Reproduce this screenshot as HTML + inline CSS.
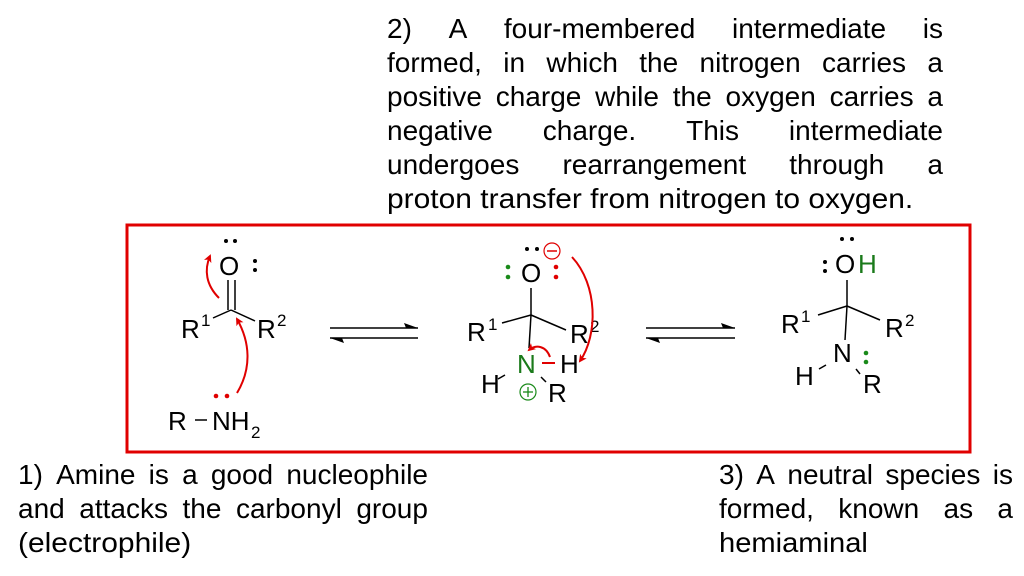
<!DOCTYPE html>
<html><head><meta charset="utf-8"><style>
body{margin:0;width:1024px;height:576px;background:#fff;position:relative;overflow:hidden;font-family:"Liberation Sans",Arial,sans-serif;}
.l{position:absolute;display:flex;justify-content:space-between;font-size:28px;line-height:34px;height:34px;white-space:nowrap;color:#000;}
.n{position:absolute;font-size:28px;line-height:34px;white-space:nowrap;transform:scaleX(1.07);transform-origin:0 0;}
svg{position:absolute;left:0;top:0;}
svg text{font-family:"Liberation Sans",Arial,sans-serif;}
</style></head><body>
<div class="l" style="left:387px;top:12px;width:556px"><span>2)</span><span>A</span><span>four-membered</span><span>intermediate</span><span>is</span></div>
<div class="l" style="left:387px;top:46px;width:556px"><span>formed,</span><span>in</span><span>which</span><span>the</span><span>nitrogen</span><span>carries</span><span>a</span></div>
<div class="l" style="left:387px;top:80px;width:556px"><span>positive</span><span>charge</span><span>while</span><span>the</span><span>oxygen</span><span>carries</span><span>a</span></div>
<div class="l" style="left:387px;top:114px;width:556px"><span>negative</span><span>charge.</span><span>This</span><span>intermediate</span></div>
<div class="l" style="left:387px;top:148px;width:556px"><span>undergoes</span><span>rearrangement</span><span>through</span><span>a</span></div>
<div class="n" style="left:387px;top:182px">proton transfer from nitrogen to oxygen.</div>

<div class="l" style="left:18px;top:458px;width:410px"><span>1)</span><span>Amine</span><span>is</span><span>a</span><span>good</span><span>nucleophile</span></div>
<div class="l" style="left:18px;top:492px;width:410px"><span>and</span><span>attacks</span><span>the</span><span>carbonyl</span><span>group</span></div>
<div class="n" style="left:18px;top:526px">(electrophile)</div>

<div class="l" style="left:719px;top:458px;width:294px"><span>3)</span><span>A</span><span>neutral</span><span>species</span><span>is</span></div>
<div class="l" style="left:719px;top:492px;width:294px"><span>formed,</span><span>known</span><span>as</span><span>a</span></div>
<div class="n" style="left:719px;top:526px;transform:scaleX(1.04)">hemiaminal</div>

<svg width="1024" height="576" viewBox="0 0 1024 576">
<defs>
<marker id="ah" markerWidth="8" markerHeight="8" refX="6" refY="4" orient="auto" markerUnits="userSpaceOnUse"><path d="M0,0 L8,4 L0,8 L2,4 Z" fill="#e00000"/></marker>
</defs>
<rect x="127" y="225" width="843" height="227" fill="none" stroke="#e00000" stroke-width="3"/>
<g font-size="26" fill="#000">
<!-- molecule 1 -->
<text x="219" y="275">O</text>
<circle cx="226" cy="241" r="2" /><circle cx="235" cy="241" r="2"/>
<circle cx="255" cy="261" r="2"/><circle cx="255" cy="270" r="2"/>
<line x1="228" y1="280" x2="228" y2="310" stroke="#000" stroke-width="1.5"/>
<line x1="235" y1="280" x2="235" y2="310" stroke="#000" stroke-width="1.5"/>
<line x1="213" y1="318" x2="231" y2="310" stroke="#000" stroke-width="1.5"/>
<line x1="231" y1="310" x2="255" y2="321" stroke="#000" stroke-width="1.5"/>
<text x="181" y="338">R</text><text x="201" y="326" font-size="17">1</text>
<text x="257" y="338">R</text><text x="277" y="326" font-size="17">2</text>
<text x="168" y="430">R</text>
<line x1="195" y1="420" x2="207" y2="420" stroke="#000" stroke-width="1.5"/>
<text x="212" y="430">NH</text><text x="251" y="438" font-size="17">2</text>
<circle cx="216" cy="396" r="2.3" fill="#e00000"/><circle cx="227" cy="396" r="2.3" fill="#e00000"/>
<path d="M219,298 C206,285 204,270 210,256" fill="none" stroke="#e00000" stroke-width="2" marker-end="url(#ah)"/>
<path d="M237,393 C252,368 250,342 237,319" fill="none" stroke="#e00000" stroke-width="2" marker-end="url(#ah)"/>
<!-- eq arrows 1 -->
<line x1="330" y1="328" x2="418" y2="328" stroke="#000" stroke-width="1.5"/>
<path d="M418,328 L404,323 L406,328 Z" fill="#000"/>
<line x1="330" y1="338" x2="418" y2="338" stroke="#000" stroke-width="1.5"/>
<path d="M330,338 L344,343 L342,338 Z" fill="#000"/>
<!-- molecule 2 -->
<text x="521" y="282">O</text>
<circle cx="527" cy="249" r="2"/><circle cx="537" cy="249" r="2"/>
<circle cx="552" cy="251" r="8" fill="none" stroke="#e00000" stroke-width="1.2"/>
<line x1="547" y1="251" x2="557" y2="251" stroke="#e00000" stroke-width="1.5"/>
<circle cx="508" cy="267" r="2.3" fill="#1a8a1a"/><circle cx="508" cy="277" r="2.3" fill="#1a8a1a"/>
<circle cx="556" cy="267" r="2.3" fill="#e00000"/><circle cx="556" cy="277" r="2.3" fill="#e00000"/>
<line x1="531" y1="288" x2="531" y2="315" stroke="#000" stroke-width="1.5"/>
<line x1="502" y1="323" x2="531" y2="315" stroke="#000" stroke-width="1.5"/>
<line x1="531" y1="315" x2="566" y2="330" stroke="#000" stroke-width="1.5"/>
<line x1="531" y1="315" x2="529" y2="348" stroke="#000" stroke-width="1.5"/>
<text x="467" y="341">R</text><text x="488" y="330" font-size="17">1</text>
<text x="570" y="343">R</text><text x="590" y="332" font-size="17">2</text>
<text x="517" y="373" fill="#1a7a1a">N</text>
<line x1="542" y1="363" x2="555" y2="363" stroke="#e00000" stroke-width="2"/>
<text x="560" y="373">H</text>
<text x="481" y="393">H</text>
<line x1="498" y1="379" x2="505" y2="375" stroke="#000" stroke-width="1.5"/>
<line x1="541" y1="377" x2="546" y2="382" stroke="#000" stroke-width="1.5"/>
<text x="548" y="402">R</text>
<circle cx="528" cy="392" r="8" fill="none" stroke="#1a8a1a" stroke-width="1.2"/>
<line x1="523" y1="392" x2="533" y2="392" stroke="#1a8a1a" stroke-width="1.3"/>
<line x1="528" y1="387" x2="528" y2="397" stroke="#1a8a1a" stroke-width="1.3"/>
<path d="M572,257 C598,285 598,335 580,361" fill="none" stroke="#e00000" stroke-width="2" marker-end="url(#ah)"/>
<path d="M550,357 C546,346 536,344 529,350" fill="none" stroke="#e00000" stroke-width="2" marker-end="url(#ah)"/>
<!-- eq arrows 2 -->
<line x1="646" y1="328" x2="735" y2="328" stroke="#000" stroke-width="1.5"/>
<path d="M735,328 L721,323 L723,328 Z" fill="#000"/>
<line x1="646" y1="338" x2="735" y2="338" stroke="#000" stroke-width="1.5"/>
<path d="M646,338 L660,343 L658,338 Z" fill="#000"/>
<!-- molecule 3 -->
<text x="835" y="273">O</text><text x="858" y="273" fill="#1a7a1a">H</text>
<circle cx="842" cy="239" r="2"/><circle cx="852" cy="239" r="2"/>
<circle cx="825" cy="262" r="2"/><circle cx="825" cy="271" r="2"/>
<line x1="847" y1="280" x2="847" y2="306" stroke="#000" stroke-width="1.5"/>
<line x1="818" y1="315" x2="847" y2="306" stroke="#000" stroke-width="1.5"/>
<line x1="847" y1="306" x2="880" y2="320" stroke="#000" stroke-width="1.5"/>
<line x1="847" y1="306" x2="845" y2="340" stroke="#000" stroke-width="1.5"/>
<text x="781" y="333">R</text><text x="801" y="322" font-size="17">1</text>
<text x="885" y="337">R</text><text x="905" y="326" font-size="17">2</text>
<text x="833" y="362">N</text>
<circle cx="866" cy="353" r="2.3" fill="#1a8a1a"/><circle cx="866" cy="362" r="2.3" fill="#1a8a1a"/>
<text x="795" y="385">H</text>
<line x1="819" y1="369" x2="826" y2="365" stroke="#000" stroke-width="1.5"/>
<line x1="856" y1="369" x2="860" y2="374" stroke="#000" stroke-width="1.5"/>
<text x="863" y="393">R</text>
</g>
</svg>
</body></html>
